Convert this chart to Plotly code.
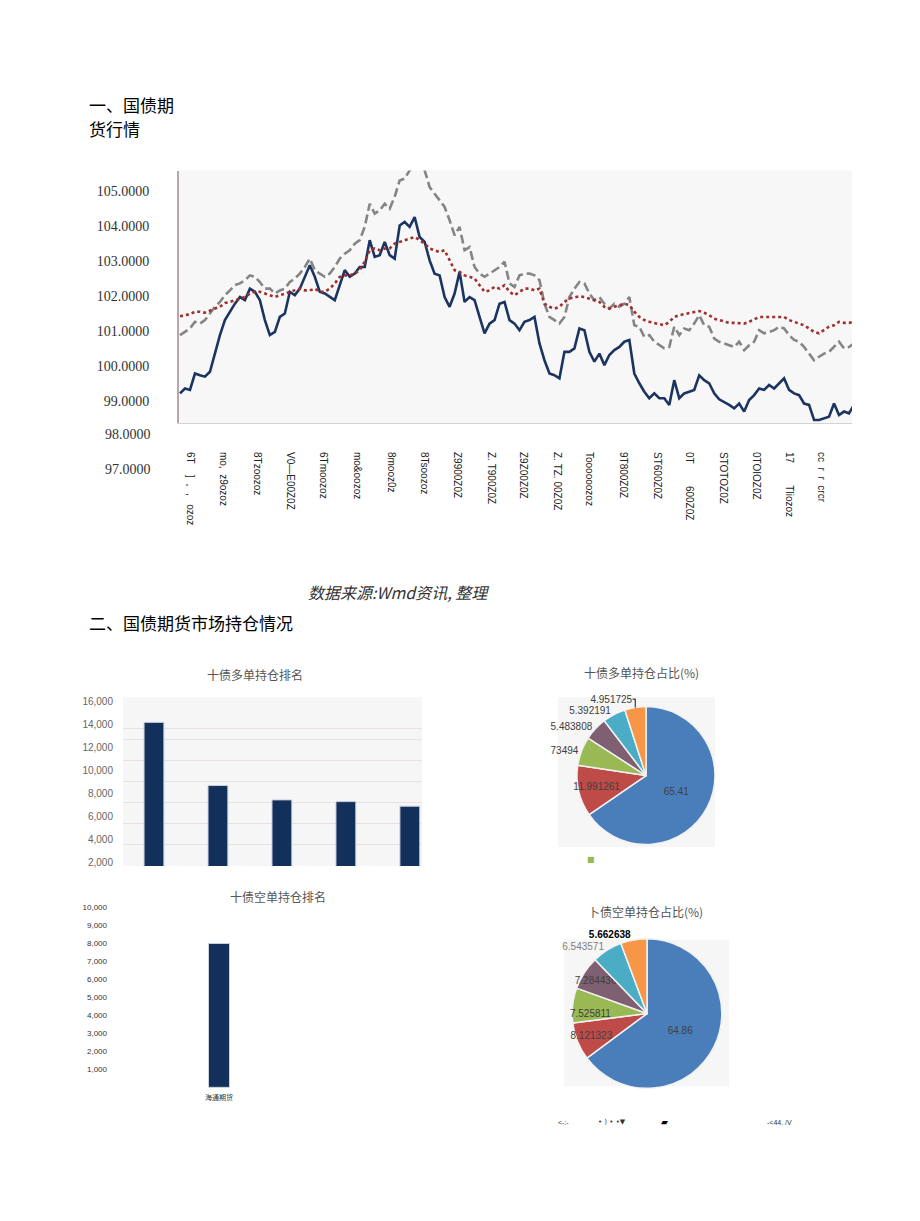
import plotly.graph_objects as go

W, H = 920, 1221

# ---------------- data ----------------
blue_series = [99.21, 99.35, 99.31, 99.78, 99.73, 99.69, 99.83, 100.35, 100.88, 101.31,
    101.55, 101.78, 101.97, 101.88, 102.21, 102.12, 101.88, 101.31, 100.88, 100.97,
    101.40, 101.50, 102.12, 102.02, 102.21, 102.55, 102.88, 102.55, 102.12, 102.07,
    101.97, 101.88, 102.31, 102.74, 102.55, 102.64, 102.83, 102.83, 103.60, 103.12,
    103.17, 103.55, 103.17, 103.07, 104.02, 104.12, 103.98, 104.26, 103.69, 103.55,
    103.02, 102.64, 102.59, 101.97, 101.69, 102.07, 102.69, 101.83, 101.97, 101.88,
    101.40, 100.93, 101.21, 101.31, 101.78, 101.83, 101.31, 101.21, 101.02, 101.26,
    101.31, 101.40, 100.64, 100.16, 99.78, 99.73, 99.64, 100.40, 100.40, 100.50,
    101.07, 101.02, 100.40, 100.12, 100.35, 100.02, 100.31, 100.45, 100.54, 100.69,
    100.74, 99.78, 99.50, 99.26, 99.07, 99.21, 99.07, 99.07, 98.88, 99.59,
    99.07, 99.21, 99.26, 99.31, 99.73, 99.59, 99.50, 99.21, 99.04, 98.97,
    98.88, 98.78, 98.92, 98.69, 99.02, 99.16, 99.35, 99.31, 99.45, 99.35,
    99.50, 99.64, 99.31, 99.21, 99.16, 98.92, 98.88, 98.45, 98.45, 98.50,
    98.54, 98.92, 98.59, 98.69, 98.64, 98.88]

gray_series = [100.88, 100.97, 101.07, 101.26, 101.21, 101.31, 101.50, 101.69, 101.83, 102.02,
    102.16, 102.31, 102.36, 102.45, 102.59, 102.55, 102.40, 102.21, 102.21, 102.07,
    102.16, 102.21, 102.40, 102.50, 102.64, 102.83, 103.07, 102.74, 102.64, 102.55,
    102.64, 102.83, 103.07, 103.21, 103.31, 103.50, 103.60, 103.98, 104.64, 104.36,
    104.45, 104.64, 104.50, 104.84, 105.31, 105.36, 105.60, 105.74, 105.79, 105.60,
    105.12, 104.93, 104.74, 104.55, 104.17, 103.74, 103.98, 103.31, 103.40, 102.83,
    102.64, 102.55, 102.64, 102.74, 102.83, 102.98, 102.36, 102.26, 102.59, 102.64,
    102.64, 102.59, 102.45, 101.78, 101.40, 101.31, 101.21, 101.40, 101.97, 102.21,
    102.40, 102.36, 102.07, 101.88, 101.97, 101.78, 101.64, 101.78, 101.69, 101.78,
    101.97, 101.16, 101.12, 100.83, 100.88, 100.69, 100.59, 100.50, 100.54, 101.12,
    100.88, 101.07, 101.02, 101.21, 101.45, 101.16, 101.12, 100.78, 100.69, 100.64,
    100.59, 100.54, 100.69, 100.45, 100.59, 100.69, 101.02, 100.93, 100.97, 101.02,
    101.12, 101.07, 100.88, 100.74, 100.69, 100.54, 100.35, 100.16, 100.26, 100.35,
    100.40, 100.54, 100.69, 100.50, 100.54, 100.64]

red_series = [101.42, 101.45, 101.48, 101.55, 101.55, 101.52, 101.59, 101.64, 101.69, 101.80,
    101.83, 101.88, 101.93, 101.97, 102.07, 102.12, 102.12, 102.07, 102.02, 101.97,
    102.02, 102.07, 102.12, 102.16, 102.21, 102.16, 102.16, 102.21, 102.12, 102.12,
    102.21, 102.36, 102.55, 102.59, 102.59, 102.64, 102.74, 102.98, 103.31, 103.36,
    103.31, 103.36, 103.36, 103.50, 103.55, 103.60, 103.64, 103.69, 103.60, 103.50,
    103.36, 103.31, 103.26, 103.31, 103.02, 102.74, 102.69, 102.59, 102.55, 102.50,
    102.31, 102.12, 102.16, 102.26, 102.21, 102.31, 102.12, 102.02, 102.12, 102.21,
    102.21, 102.16, 102.21, 101.78, 101.69, 101.64, 101.69, 101.83, 101.93, 101.97,
    101.99, 101.97, 101.93, 101.88, 101.83, 101.69, 101.64, 101.69, 101.74, 101.78,
    101.74, 101.55, 101.40, 101.31, 101.26, 101.23, 101.21, 101.16, 101.26, 101.40,
    101.45, 101.48, 101.52, 101.55, 101.57, 101.52, 101.45, 101.35, 101.31, 101.26,
    101.23, 101.23, 101.21, 101.21, 101.26, 101.33, 101.40, 101.40, 101.40, 101.40,
    101.38, 101.40, 101.31, 101.26, 101.21, 101.16, 101.07, 100.97, 100.93, 101.02,
    101.12, 101.16, 101.26, 101.23, 101.23, 101.26]

x_tick_pos = [2, 8.6, 15.4, 22, 28.6, 35.4, 42.4, 49, 55.6, 62.4,
              68.8, 75.6, 82, 88.8, 95.6, 102, 108.8, 115.4, 122, 128.4]
x_labels = ["6T    ]  。,   ozoz", "mo,  z9ozoz", "8Tzoozoz", "V0—E00Z0Z", "6Tmoozoz",
            "mo&oozoz", "8mooz0z", "8Tsoozoz", "Z9900Z0Z", "Z. T900Z0Z",
            "Z9Z00Z0Z", "Z. TZ. 00Z0Z", "Toooooozoz", "9T800Z0Z", "ST600Z0Z",
            "0T        600Z0Z", "STOTOZ0Z", "0TOIOZ0Z", "17        Tliozoz", "cc  r  r  crcr"]
y_ticks_main = [99, 100, 101, 102, 103, 104, 105]
y_ticks_extra = ["98.0000", "97.0000"]

long_rank = ["第一名", "第二名", "第三名", "第四名", "第五名"]
long_values = [14200, 8700, 7450, 7300, 6900]
long_ticks = [2000, 4000, 6000, 8000, 10000, 12000, 14000, 16000]

short_rank = ["海通期货"]
short_values = [8000]
short_ticks = [1000, 2000, 3000, 4000, 5000, 6000, 7000, 8000, 9000, 10000]

pie_colors = ["#4A7EBB", "#BE4B48", "#98B954", "#7F6072", "#4BACC6", "#F79646"]
long_share = [65.41, 11.991261, 6.773494, 5.483808, 5.392191, 4.951725]
long_share_labels = ["65.41", "11.991261", "73494", "5.483808", "5.392191", "4.951725"]
short_share = [64.86, 8.121323, 7.525811, 7.284436, 6.543571, 5.662638]
short_share_labels = ["64.86", "8.121323", "7.525811", "7.284436", "6.543571", "<b>5.662638</b>"]

# ---------------- helpers (page pixel -> paper; the page body adds an 8px offset) ----------------
OFF = 8

def fx(px):
    return (px - OFF) / W

def fy(py):
    return 1 - (py - OFF) / H

CJK = "Noto Sans CJK SC"

fig = go.Figure()
idx = list(range(len(blue_series)))

# main line chart
fig.add_trace(go.Scatter(x=idx, y=blue_series, mode="lines", xaxis="x", yaxis="y",
                         line=dict(color="#1B3560", width=2.6), showlegend=False))
fig.add_trace(go.Scatter(x=idx, y=gray_series, mode="lines", xaxis="x", yaxis="y",
                         line=dict(color="#858585", width=2.6, dash="9px,4px"), showlegend=False))
fig.add_trace(go.Scatter(x=idx, y=red_series, mode="lines", xaxis="x", yaxis="y",
                         line=dict(color="#A0302E", width=2.6, dash="3px,3px"), showlegend=False))

# long ranking bars
fig.add_trace(go.Bar(x=long_rank, y=long_values, xaxis="x2", yaxis="y2", width=0.31,
                     marker=dict(color="#12305A", line=dict(color="#C9D2DE", width=1)),
                     showlegend=False))
fig.add_trace(go.Scatter(x=[], y=[], xaxis="x2", yaxis="y3", showlegend=False))

# short ranking bars
fig.add_trace(go.Bar(x=short_rank, y=short_values, xaxis="x3", yaxis="y4", width=0.42,
                     marker=dict(color="#12305A", line=dict(color="#C9D2DE", width=1)),
                     showlegend=False))

# pies
fig.add_trace(go.Pie(values=long_share, text=long_share_labels, textinfo="text",
                     sort=False, direction="clockwise", rotation=0,
                     marker=dict(colors=pie_colors, line=dict(color="#F2F2F2", width=1.5)),
                     textposition=["inside", "inside", "outside", "outside", "outside", "outside"],
                     insidetextorientation="horizontal",
                     textfont=dict(family="Liberation Sans", size=10, color="#404040"),
                     outsidetextfont=dict(family="Liberation Sans", size=10, color="#404040"),
                     domain=dict(x=[fx(577), fx(715)], y=[fy(846), fy(707)]),
                     showlegend=False, hoverinfo="skip"))
fig.add_trace(go.Pie(values=short_share, text=short_share_labels, textinfo="text",
                     sort=False, direction="clockwise", rotation=0,
                     marker=dict(colors=pie_colors, line=dict(color="#F2F2F2", width=1.5)),
                     textposition=["inside", "inside", "inside", "inside", "outside", "outside"],
                     insidetextorientation="horizontal",
                     textfont=dict(family="Liberation Sans", size=10,
                                   color=["#404040", "#404040", "#404040", "#404040", "#7F7F7F", "#000000"]),
                     domain=dict(x=[fx(569), fx(725)], y=[fy(1090), fy(940)]),
                     showlegend=False, hoverinfo="skip"))

serif_tick = dict(family="Liberation Serif", size=14, color="#333333")

fig.update_layout(
    width=W, height=H, autosize=False,
    margin=dict(l=0, r=0, t=0, b=0),
    paper_bgcolor="white", plot_bgcolor="rgba(0,0,0,0)",
    showlegend=False,
    uniformtext=dict(minsize=10, mode="show"),
    xaxis=dict(domain=[fx(179), fx(852)], range=[-0.2, 134.6], anchor="y",
               tickmode="array", tickvals=x_tick_pos,
               ticktext=[s.replace(" ", "\u00a0") for s in x_labels],
               tickangle=90, ticklabelstandoff=26, ticks="",
               tickfont=dict(family="Liberation Sans", size=10, color="#222222"),
               showgrid=False, zeroline=False, showline=True, linecolor="#D4D4D4", linewidth=1),
    yaxis=dict(domain=[fy(423), fy(170)], range=[98.363, 105.591], anchor="x",
               tickmode="array", tickvals=y_ticks_main, tickformat=".4f",
               tickfont=serif_tick, ticklabelstandoff=25, ticks="",
               showgrid=False, zeroline=False, showline=True, linecolor="#B4A8A8", linewidth=2),
    xaxis2=dict(domain=[fx(123), fx(422)], range=[-0.484, 4.19], anchor="y2",
                showticklabels=False, ticks="", showgrid=False, zeroline=False, showline=False),
    yaxis2=dict(domain=[fy(867), fy(698)], range=[1704, 16383], anchor="x2",
                tickmode="array", tickvals=long_ticks, tickformat=",",
                tickfont=dict(family="Liberation Sans", size=10, color="#666666"),
                ticklabelstandoff=9, ticks="", showgrid=False, zeroline=False, showline=False),
    yaxis3=dict(overlaying="y2", anchor="x2", range=[0, 8],
                tickmode="array", tickvals=[1, 2, 3, 4, 5, 6, 6.5], showticklabels=False,
                ticks="", showgrid=True, gridcolor="#E8E0E2", gridwidth=1,
                zeroline=False, showline=False),
    xaxis3=dict(domain=[fx(113), fx(420)], range=[-2.12, 4.02], anchor="y4",
                tickfont=dict(family=CJK, size=7, color="#333333"), ticks="",
                ticklabelstandoff=4, showgrid=False, zeroline=False, showline=False),
    yaxis4=dict(domain=[fy(1090), fy(905)], range=[-55, 10205], anchor="x3",
                tickmode="array", tickvals=short_ticks, tickformat=",",
                tickfont=dict(family="Liberation Sans", size=8, color="#333333"),
                ticklabelstandoff=5, ticks="", showgrid=False, zeroline=False, showline=False),
)

# background panels
fig.add_shape(type="rect", xref="x domain", yref="y domain", x0=0, x1=1, y0=0, y1=1,
              fillcolor="#F7F7F7", line=dict(width=0), layer="below")
fig.add_shape(type="rect", xref="x2 domain", yref="y2 domain", x0=0, x1=1, y0=0, y1=1,
              fillcolor="#F6F6F6", line=dict(width=0), layer="below")
fig.add_shape(type="rect", xref="paper", yref="paper", x0=fx(558), x1=fx(715), y0=fy(848), y1=fy(698),
              fillcolor="#F6F6F6", line=dict(width=0), layer="below")
fig.add_shape(type="rect", xref="paper", yref="paper", x0=fx(564), x1=fx(729), y0=fy(1088), y1=fy(941),
              fillcolor="#F6F6F6", line=dict(width=0), layer="below")

def note(text, px, py, size, color="#000000", family=CJK, xanchor="left"):
    fig.add_annotation(text=text, x=fx(px), y=fy(py), xref="paper", yref="paper",
                       xanchor=xanchor, yanchor="middle", showarrow=False,
                       font=dict(family=family, size=size, color=color))

# extra y labels of the main chart
note(y_ticks_extra[0], 153, 435, 14, "#333333", "Liberation Serif", "right")
note(y_ticks_extra[1], 153, 470, 14, "#333333", "Liberation Serif", "right")

# headings
note("一、国债期", 87, 104, 17)
note("货行情", 87, 128, 17)
note("<i>数据来源:Wmd资讯, 整理</i>", 306, 592, 16, "#333333")
note("二、国债期货市场持仓情况", 87, 623, 17)

# chart titles
note("十债多单持仓排名", 255, 675, 12, "#555555", CJK, "center")
note("十债多单持仓占比(%)", 641, 673, 12, "#555555", CJK, "center")
note("十债空单持仓排名", 278, 898, 12, "#555555", CJK, "center")
note("卜债空单持仓占比(%)", 645, 913, 12, "#555555", CJK, "center")

# stray legend marks
note("■", 591, 861, 8, "#98B954", "DejaVu Sans", "center")
note("<-:-", 556, 1124, 7, "#333333", "Liberation Sans")
note("• ) • •▼", 596, 1124, 7, "#333333", "DejaVu Sans")
note("▰", 664, 1124, 9, "#000000", "DejaVu Sans", "center")
note("-<44. /V", 765, 1124, 7, "#333333", "Liberation Sans")

fig.write_html("out.html")
